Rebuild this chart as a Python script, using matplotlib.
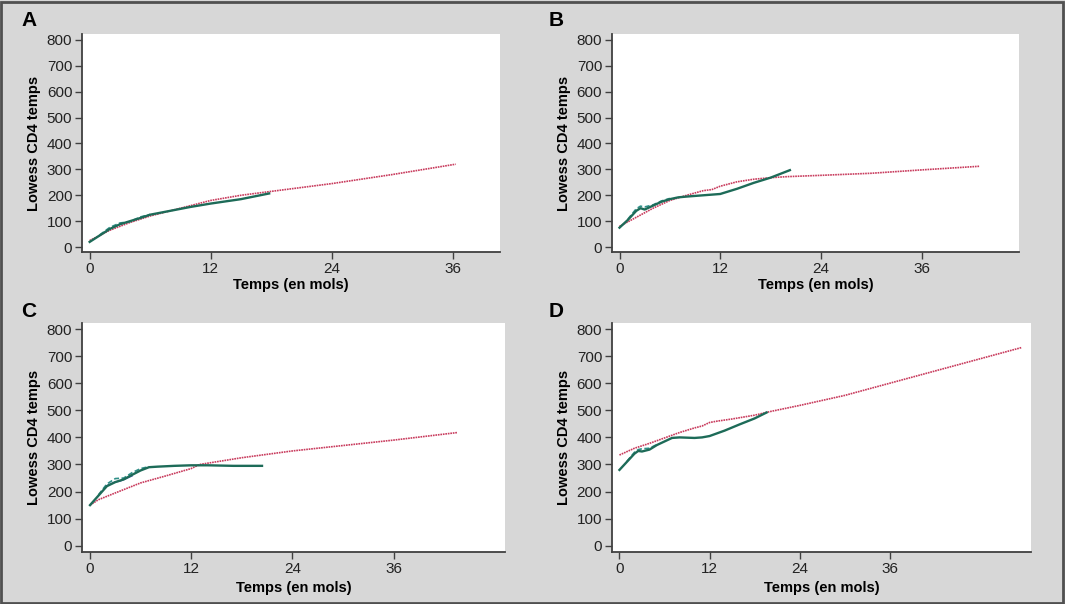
import numpy as np
import matplotlib
matplotlib.use("Agg")
import matplotlib.pyplot as plt
from matplotlib.patches import Rectangle

plt.rcParams['font.family'] = ['Liberation Sans', 'DejaVu Sans']

# ---- data (months, CD4 lowess) ----
# panel A
a_red_x = [0, 2, 4, 6, 8, 10, 12, 15, 18, 24, 30, 36.3]
a_red_y = [25, 65, 95, 120, 140, 160, 180, 200, 215, 245, 280, 320]
a_green_x = [0, 1, 2, 3, 4, 5, 6, 8, 10, 12, 15, 17.8]
a_green_y = [20, 45, 70, 88, 100, 112, 125, 140, 155, 168, 185, 207]
a_teal_x = [1, 2, 3, 4, 5, 6]
a_teal_y = [47, 76, 93, 98, 116, 126]

# panel B
b_red_x = [0, 2, 4, 6, 8, 10, 11, 12, 14, 16, 18, 20, 24, 30, 36, 42.9]
b_red_y = [80, 115, 150, 180, 200, 218, 222, 235, 252, 262, 268, 272, 277, 285, 298, 312]
b_green_x = [0, 1, 2, 2.5, 3, 4, 5, 6, 7, 8, 10, 12, 14, 16, 18, 20.3]
b_green_y = [75, 105, 140, 150, 145, 160, 175, 185, 192, 195, 200, 205, 225, 248, 268, 297]
b_teal_x = [1, 2, 2.5, 3, 4, 5, 6]
b_teal_y = [108, 148, 158, 155, 163, 178, 188]

# panel C
c_red_x = [0, 1, 3, 6, 9, 12, 13, 18, 24, 30, 36, 43.6]
c_red_y = [150, 170, 195, 232, 258, 285, 300, 325, 350, 370, 390, 418]
c_green_x = [0, 1, 2, 3, 4, 5, 6, 7, 8, 10, 12, 14, 17, 20.4]
c_green_y = [150, 185, 220, 235, 245, 262, 278, 290, 292, 295, 297, 297, 295, 295]
c_teal_x = [1, 2, 3, 4, 5, 6, 7]
c_teal_y = [188, 228, 248, 250, 270, 285, 292]
c_blue_x = [2, 3, 3.5, 4, 5]
c_blue_y = [222, 236, 238, 244, 258]

# panel D
d_red_x = [0, 2, 4, 6, 8, 10, 11, 12, 13, 15, 18, 20, 24, 30, 36, 42, 48, 53.6]
d_red_y = [335, 360, 378, 398, 418, 435, 442, 455, 460, 468, 482, 495, 518, 555, 600, 645, 690, 732]
d_green_x = [0, 1, 2, 2.5, 3, 4, 5, 6, 7, 8, 10, 11, 12, 14, 16, 18, 19.6]
d_green_y = [280, 310, 340, 350, 348, 355, 372, 385, 398, 400, 398, 400, 405, 425, 448, 470, 492]
d_teal_x = [1, 2, 2.5, 3, 4, 5]
d_teal_y = [312, 345, 355, 358, 360, 374]

panels = [
    ("A", [0.077, 0.5828, 0.3925, 0.361], (-0.76, 40.7), (-19, 823), 1.5,
     (a_red_x, a_red_y), (a_green_x, a_green_y), (a_teal_x, a_teal_y), None, (21, 11)),
    ("B", [0.5746, 0.5828, 0.3822, 0.361], (-0.9, 47.6), (-19, 823), 1.5,
     (b_red_x, b_red_y), (b_green_x, b_green_y), (b_teal_x, b_teal_y), None, (549, 11)),
    ("C", [0.077, 0.0861, 0.397, 0.379], (-0.95, 49.2), (-23, 822), 3.5,
     (c_red_x, c_red_y), (c_green_x, c_green_y), (c_teal_x, c_teal_y), (c_blue_x, c_blue_y), (21, 302)),
    ("D", [0.5746, 0.0861, 0.3934, 0.379], (-1.0, 54.8), (-23, 822), 3.5,
     (d_red_x, d_red_y), (d_green_x, d_green_y), (d_teal_x, d_teal_y), None, (549, 302)),
]

W, H = 1065, 604
fig = plt.figure(figsize=(W / 100, H / 100), dpi=100)
fig.patch.set_facecolor('#d7d7d7')
fig.patches.append(Rectangle((0.001, 0.002), 0.997, 0.995, transform=fig.transFigure,
                             fill=False, edgecolor='#505050', linewidth=2))

for letter, pos, xl, yl, xpad, red, green, teal, blue, lpos in panels:
    ax = fig.add_axes(pos)
    ax.set_facecolor('white')
    ax.plot(red[0], red[1], color='#c83a5c', linestyle=(0, (1, 0.5)), linewidth=1.2, zorder=2)
    ax.plot(teal[0], teal[1], color='#2f8f88', linestyle=(0, (3, 1.5)), linewidth=1.2, zorder=3)
    if blue is not None:
        ax.plot(blue[0], blue[1], color='#4455aa', linewidth=1.0, zorder=3)
    ax.plot(green[0], green[1], color='#1d6b58', linewidth=1.7, zorder=4)
    ax.set_xlim(*xl)
    ax.set_ylim(*yl)
    ax.set_xticks([0, 12, 24, 36])
    ax.set_yticks(range(0, 801, 100))
    for s in ['top', 'right']:
        ax.spines[s].set_visible(False)
    for s in ['left', 'bottom']:
        ax.spines[s].set_color('#404040')
        ax.spines[s].set_linewidth(1.3)
    ax.tick_params(direction='out', length=5, width=1, color='#404040',
                   labelsize=11, labelcolor='#222222', pad=2)
    ax.set_xlabel('Temps (en mols)', fontsize=10.5, fontweight='bold', labelpad=xpad)
    ax.set_ylabel('Lowess CD4 temps', fontsize=10.5, fontweight='bold', labelpad=4)
    fig.text(lpos[0] / W, 1 - lpos[1] / H, letter, fontsize=15, fontweight='bold',
             ha='left', va='top')

fig.savefig('out.png', dpi=100, facecolor=fig.get_facecolor())
